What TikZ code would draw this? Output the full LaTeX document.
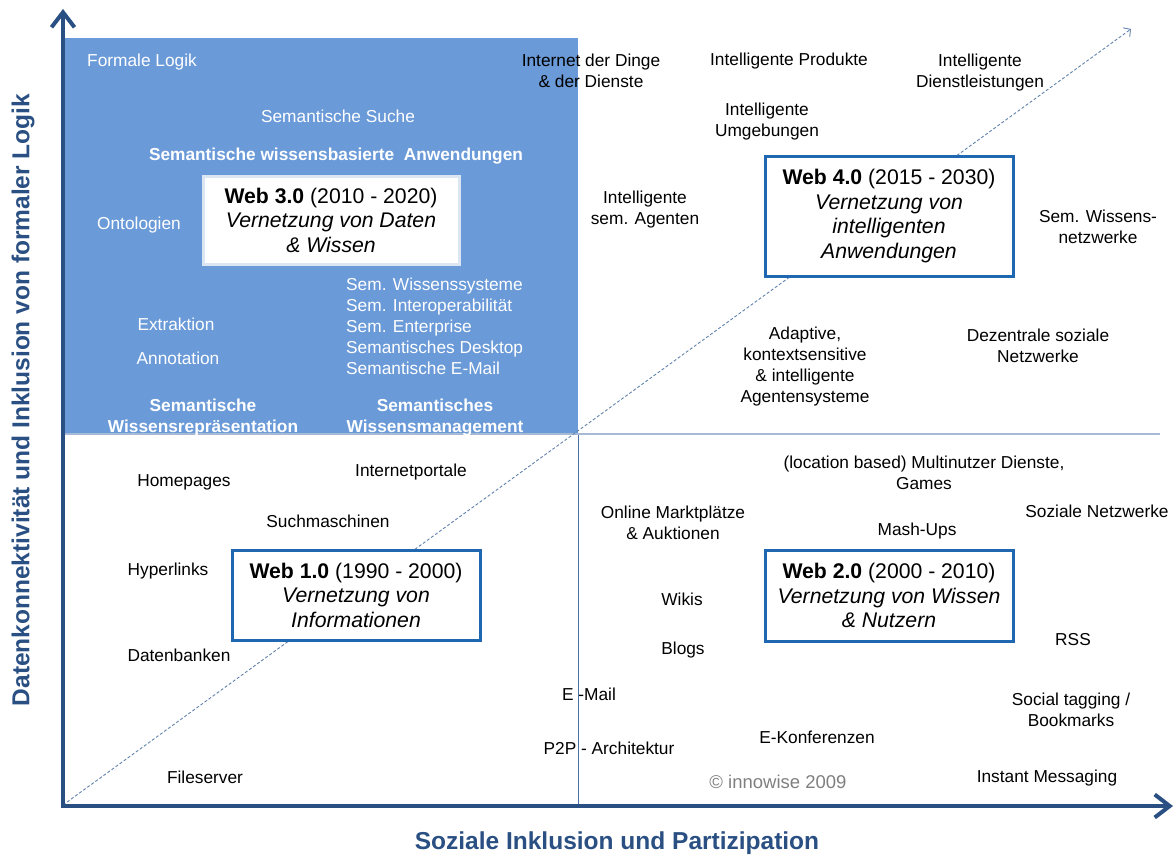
\documentclass[tikz,border=0pt]{standalone}
\usepackage{fontspec}
\setmainfont{Liberation Sans}
\usetikzlibrary{arrows.meta}
\definecolor{axisblue}{HTML}{2A4F82}
\definecolor{quadblue}{HTML}{6A9AD8}
\definecolor{boxblue}{HTML}{1F67B0}
\definecolor{paleborder}{HTML}{DCE6F3}
\definecolor{diagblue}{HTML}{6283AE}
\definecolor{midline}{HTML}{A7BAD5}
\definecolor{vline}{HTML}{4A70A6}
\definecolor{copygray}{HTML}{7F7F7F}
\newcommand{\lblsize}{\fontsize{17.3}{21}\selectfont}
\newcommand{\boxsize}{\fontsize{21.2}{24.5}\selectfont}
\begin{document}
\begin{tikzpicture}[x=1pt,y=-1pt,
  lbl/.style={font=\lblsize, align=center, inner sep=0pt, text=black},
  wlbl/.style={lbl, text=white},
  wblbl/.style={lbl, text=white, font=\lblsize\bfseries},
  webbox/.style={draw=boxblue, line width=3pt, fill=white, inner sep=0pt, align=center, font=\boxsize},
  axisline/.style={draw=axisblue, line width=4pt, -{Straight Barb[length=15pt,width=23pt]}},
  axlabel/.style={text=axisblue, font=\fontsize{24.5}{28}\selectfont\bfseries, inner sep=0pt},
  diagline/.style={draw=diagblue, line width=0.9pt, dash pattern=on 3pt off 2pt, -{Straight Barb[length=5pt,width=11pt]}}
]
\useasboundingbox (0,0) rectangle (1175,855);

% coordinates
\coordinate (O) at (63,805);
\coordinate (Ytip) at (63,9);
\coordinate (Xtip) at (1173,806);
\coordinate (Dtip) at (1131,29);
\coordinate (C) at (578,434);
\coordinate (Cbot) at (578,805);
\coordinate (Cright) at (1160,434);
\coordinate (Cleft) at (63,434);

% upper-left quadrant
\fill[quadblue] (63,38) rectangle (C);
\draw[vline, line width=1pt] (C) -- (Cbot);
\draw[midline, line width=2pt] (Cleft) -- (Cright);

% diagonal
\draw[diagline] (O) -- (Dtip);

% web boxes
\node[webbox, draw=paleborder, minimum width=256pt, minimum height=88pt] (w3) at (331,220)
  {\textbf{Web 3.0} (2010 - 2020)\\\textit{Vernetzung von Daten}\\\textit{\& Wissen}};
\node[webbox, minimum width=248pt, minimum height=120pt] (w4) at (889,216)
  {\textbf{Web 4.0} (2015 - 2030)\\\textit{Vernetzung von}\\\textit{intelligenten}\\\textit{Anwendungen}};
\node[webbox, minimum width=248pt, minimum height=90pt] (w1) at (356,595)
  {\textbf{Web 1.0} (1990 - 2000)\\\textit{Vernetzung von}\\\textit{Informationen}};
\node[webbox, minimum width=248pt, minimum height=91pt] (w2) at (889,595.5)
  {\textbf{Web 2.0} (2000 - 2010)\\\textit{Vernetzung von Wissen}\\\textit{\& Nutzern}};

% axes
\draw[axisline] (63,808) -- (Ytip);
\draw[axisline] (61,806) -- (Xtip);
\node[axlabel] (xlab) at (617,843) {Soziale Inklusion und Partizipation};
\node[axlabel, rotate=90] (ylab) at (23,400) {Datenkonnektivität und Inklusion von formaler Logik};

% Web 3.0 quadrant labels
\node[wlbl, anchor=west] (formlog) at (87,62) {Formale Logik};
\node[wlbl] (semsuche) at (338,116) {Semantische Suche};
\node[wblbl] (semwiss) at (336,156) {Semantische wissensbasierte\ \ Anwendungen};
\node[wlbl] (onto) at (139,225) {Ontologien};
\node[wlbl] (extr) at (176,324) {Extraktion};
\node[wlbl] (anno) at (178,358) {Annotation};
\node[wlbl, anchor=west, align=left] (semlist) at (346,326)
  {Sem. Wissenssysteme\\Sem. Interoperabilität\\Sem. Enterprise\\Semantisches Desktop\\Semantische E-Mail};
\node[wblbl] (semrep) at (203,418) {Semantische\\Wissensrepräsentation};
\node[wblbl] (semman) at (435,418) {Semantisches\\Wissensmanagement};

% Web 4.0 quadrant labels
\node[lbl] (iot) at (591,71) {Internet der Dinge\\\& der Dienste};
\node[lbl] (intprod) at (789,61) {Intelligente Produkte};
\node[lbl] (intdienst) at (980,72.5) {Intelligente\\Dienstleistungen};
\node[lbl] (intumg) at (767,122) {Intelligente\\Umgebungen};
\node[lbl] (intag) at (645,210) {Intelligente\\sem. Agenten};
\node[lbl] (semnetz) at (1098,227) {Sem. Wissens-\\netzwerke};
\node[lbl] (adaptive) at (805,367) {Adaptive,\\kontextsensitive\\\& intelligente\\Agentensysteme};
\node[lbl] (dezentral) at (1038,345.5) {Dezentrale soziale\\Netzwerke};

% Web 1.0 quadrant labels
\node[lbl] (homep) at (184,482) {Homepages};
\node[lbl] (portale) at (411,472) {Internetportale};
\node[lbl] (suchm) at (328,521) {Suchmaschinen};
\node[lbl] (hyper) at (168,571) {Hyperlinks};
\node[lbl] (datenb) at (179,655.5) {Datenbanken};
\node[lbl] (fileserv) at (205,777.5) {Fileserver};
\node[lbl] (email) at (589,694) {E -Mail};
\node[lbl] (p2p) at (609,748) {P2P - Architektur};

% Web 2.0 quadrant labels
\node[lbl] (online) at (673,523) {Online Marktplätze\\\& Auktionen};
\node[lbl] (location) at (924,473) {(location based) Multinutzer Dienste,\\Games};
\node[lbl] (soznetz) at (1097,511.5) {Soziale Netzwerke};
\node[lbl] (mashups) at (917,531) {Mash-Ups};
\node[lbl] (wikis) at (682,599.5) {Wikis};
\node[lbl] (blogs) at (683,650) {Blogs};
\node[lbl] (rss) at (1073,639.5) {RSS};
\node[lbl] (tagging) at (1071,710) {Social tagging /\\Bookmarks};
\node[lbl] (ekonf) at (817,737.5) {E-Konferenzen};
\node[lbl, text=copygray, font=\fontsize{18.5}{22}\selectfont] (copy) at (778,781.5) {© innowise 2009};
\node[lbl] (instant) at (1047,778.5) {Instant Messaging};
\end{tikzpicture}
\end{document}
